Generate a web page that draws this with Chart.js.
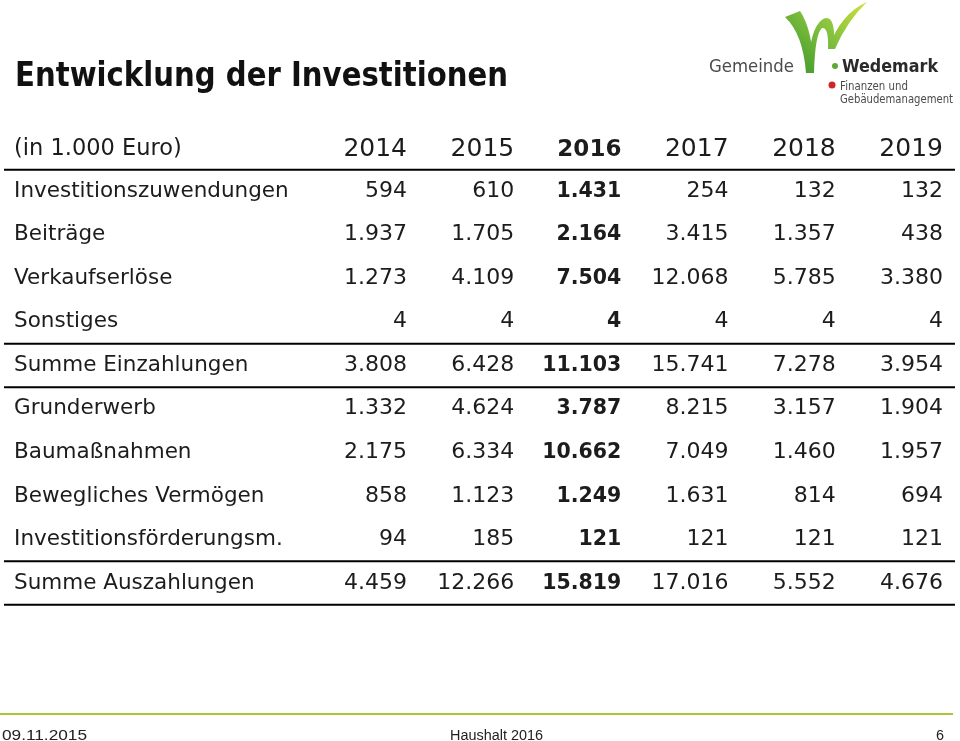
<!DOCTYPE html>
<html>
<head>
<meta charset="utf-8">
<script src="https://cdn.jsdelivr.net/npm/chart.js@4"></script>
<style>
  body { margin: 0; background: #fff; }
  canvas { display: block; }
</style>
</head>
<body>
<canvas id="invChart" width="960" height="741"></canvas>
<script>
// table content
const years = ['2014', '2015', '2016', '2017', '2018', '2019'];
const boldYear = '2016';
const unitLabel = '(in 1.000 Euro)';
const rowLabels = [
    'Investitionszuwendungen',
    'Beiträge',
    'Verkaufserlöse',
    'Sonstiges',
    'Summe Einzahlungen',
    'Grunderwerb',
    'Baumaßnahmen',
    'Bewegliches Vermögen',
    'Investitionsförderungsm.',
    'Summe Auszahlungen'
];
const values2014 = [594, 1937, 1273, 4, 3808, 1332, 2175, 858, 94, 4459];
const values2015 = [610, 1705, 4109, 4, 6428, 4624, 6334, 1123, 185, 12266];
const values2016 = [1431, 2164, 7504, 4, 11103, 3787, 10662, 1249, 121, 15819];
const values2017 = [254, 3415, 12068, 4, 15741, 8215, 7049, 1631, 121, 17016];
const values2018 = [132, 1357, 5785, 4, 7278, 3157, 1460, 814, 121, 5552];
const values2019 = [132, 438, 3380, 4, 3954, 1904, 1957, 694, 121, 4676];
const ruleRows = [0.5, 4.5, 5.5, 9.5, 10.5];

const yearValues = [values2014, values2015, values2016, values2017, values2018, values2019];

function fmt(n) {
    return String(n).replace(/\B(?=(\d{3})+(?!\d))/g, '.');
}

const FONT = "'DejaVu Sans', sans-serif";
const LABEL_X = -3.666;
const TEXT_COLOR = '#1c1c1c';

function fitText(ctx, text, x, y, width, font, color, align) {
    ctx.save();
    ctx.font = font;
    ctx.fillStyle = color;
    ctx.textBaseline = 'alphabetic';
    const w = ctx.measureText(text).width;
    const s = width / w;
    let x0 = x;
    if (align === 'center') x0 = x + width / 2;
    if (align === 'right') x0 = x + width;
    ctx.textAlign = align || 'left';
    ctx.translate(x0, y);
    ctx.scale(s, 1);
    ctx.fillText(text, 0, 0);
    ctx.restore();
}

// datasets: header, labels, one per year, rules
const datasets = [];

datasets.push({
    label: 'header',
    data: years.map((y, i) => ({ x: i, y: 0 })),
    texts: years,
    fonts: years.map(y => y === boldYear ? 'bold 23px ' + FONT : '25px ' + FONT),
    align: 'right',
    shift: 8,
    pointRadius: 0
});
datasets.push({
    label: 'unit',
    data: [{ x: LABEL_X, y: 0 }],
    texts: [unitLabel],
    fonts: ['22.5px ' + FONT],
    align: 'left',
    shift: 7,
    pointRadius: 0
});
datasets.push({
    label: 'rows',
    data: rowLabels.map((l, r) => ({ x: LABEL_X, y: r + 1 })),
    texts: rowLabels,
    fonts: rowLabels.map(() => '21.5px ' + FONT),
    align: 'left',
    shift: 5.5,
    pointRadius: 0
});
years.forEach((yr, i) => {
    const vals = yearValues[i];
    datasets.push({
        label: yr,
        data: vals.map((v, r) => ({ x: i, y: r + 1 })),
        texts: vals.map(fmt),
        fonts: vals.map(() => (yr === boldYear ? 'bold 20.5px ' : '22px ') + FONT),
        align: 'right',
        shift: 5.5,
        pointRadius: 0
    });
});
ruleRows.forEach(r => {
    datasets.push({
        label: 'rule',
        data: [{ x: -3.76, y: r }, { x: 5.112, y: r }],
        showLine: true,
        borderColor: '#000',
        borderWidth: 2,
        pointRadius: 0
    });
});

const cellText = {
    id: 'cellText',
    afterDatasetsDraw(chart) {
        const ctx = chart.ctx;
        chart.data.datasets.forEach((ds, di) => {
            if (!ds.texts) return;
            const meta = chart.getDatasetMeta(di);
            meta.data.forEach((pt, j) => {
                ctx.save();
                ctx.font = ds.fonts[j];
                ctx.fillStyle = TEXT_COLOR;
                ctx.textAlign = ds.align;
                ctx.textBaseline = 'alphabetic';
                ctx.fillText(ds.texts[j], pt.x, pt.y + ds.shift);
                ctx.restore();
            });
        });
    }
};

const slideDecor = {
    id: 'slideDecor',
    afterDraw(chart) {
        const ctx = chart.ctx;
        // title
        fitText(ctx, 'Entwicklung der Investitionen', 15, 86, 493, 'bold 34px ' + FONT, '#111', 'left');

        // logo swoosh
        const g = ctx.createLinearGradient(790, 72, 862, 0);
        g.addColorStop(0, '#3a962b');
        g.addColorStop(0.55, '#86c23f');
        g.addColorStop(1, '#cfe03c');
        ctx.save();
        ctx.fillStyle = g;
        // left arm
        ctx.beginPath();
        ctx.moveTo(785, 17);
        ctx.quadraticCurveTo(803, 34, 806, 73);
        ctx.lineTo(814, 73);
        ctx.quadraticCurveTo(813, 30, 800, 11);
        ctx.closePath();
        ctx.fill();
        // middle hump
        ctx.beginPath();
        ctx.moveTo(808, 73);
        ctx.quadraticCurveTo(809, 28, 823, 19);
        ctx.quadraticCurveTo(836, 13, 834, 47);
        ctx.lineTo(828, 49);
        ctx.quadraticCurveTo(829, 27, 822, 28);
        ctx.quadraticCurveTo(815, 34, 814, 73);
        ctx.closePath();
        ctx.fill();
        // right swoosh
        ctx.beginPath();
        ctx.moveTo(828, 49);
        ctx.quadraticCurveTo(841, 13, 867, 2);
        ctx.quadraticCurveTo(847, 21, 835, 49);
        ctx.closePath();
        ctx.fill();
        ctx.restore();

        fitText(ctx, 'Gemeinde', 709, 72, 85, '17px ' + FONT, '#4b4b4b', 'left');
        ctx.fillStyle = '#5aab32';
        ctx.beginPath();
        ctx.arc(835, 66, 3, 0, Math.PI * 2);
        ctx.fill();
        fitText(ctx, 'Wedemark', 842, 72, 96, 'bold 17px ' + FONT, '#2a2a2a', 'left');
        ctx.fillStyle = '#d2232a';
        ctx.beginPath();
        ctx.arc(832, 85, 3.5, 0, Math.PI * 2);
        ctx.fill();
        fitText(ctx, 'Finanzen und', 840, 90, 68, '12px ' + FONT, '#4b4b4b', 'left');
        fitText(ctx, 'Gebäudemanagement', 840, 103, 113, '12px ' + FONT, '#4b4b4b', 'left');

        // footer
        ctx.save();
        ctx.strokeStyle = '#a8c83c';
        ctx.lineWidth = 2;
        ctx.beginPath();
        ctx.moveTo(0, 714);
        ctx.lineTo(953, 714);
        ctx.stroke();
        ctx.restore();
        fitText(ctx, '09.11.2015', 2, 740, 85, "14px 'Liberation Sans', sans-serif", '#222', 'left');
        fitText(ctx, 'Haushalt 2016', 450, 740, 93, "14px 'Liberation Sans', sans-serif", '#222', 'left');
        fitText(ctx, '6', 936, 740, 8, "14px 'Liberation Sans', sans-serif", '#222', 'left');
    }
};

const ctx = document.getElementById('invChart').getContext('2d');
const invChart = new Chart(ctx, {
    type: 'scatter',
    data: { datasets: datasets },
    options: {
        responsive: false,
        animation: false,
        layout: { padding: 0 },
        plugins: {
            legend: { display: false },
            tooltip: { enabled: false }
        },
        scales: {
            x: { type: 'linear', min: -3.797, max: 5.159, display: false },
            y: { type: 'linear', min: -3.402, max: 13.632, reverse: true, display: false }
        }
    },
    plugins: [cellText, slideDecor]
});
</script>
</body>
</html>
